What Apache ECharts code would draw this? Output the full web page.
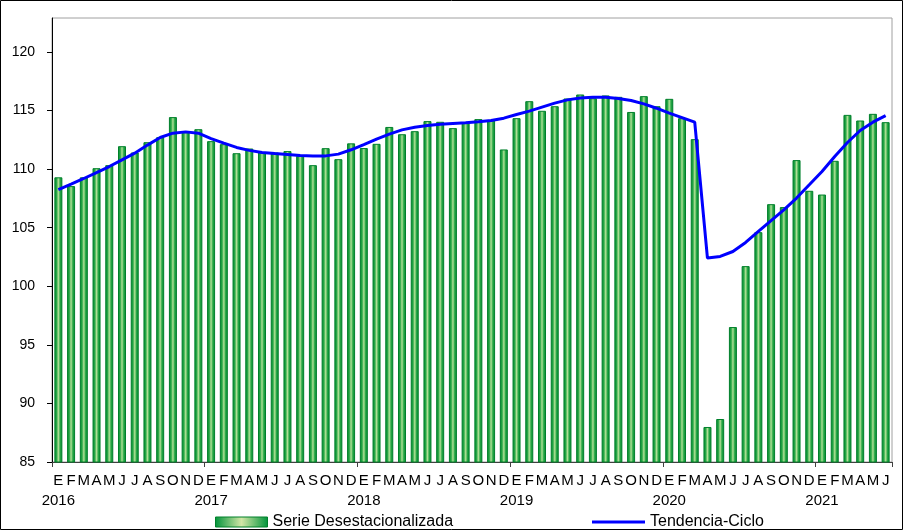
<!DOCTYPE html>
<html>
<head>
<meta charset="utf-8">
<script src="https://cdn.jsdelivr.net/npm/echarts@6/dist/echarts.min.js"></script>
<style>html,body{margin:0;padding:0;background:#fff}#c{width:904px;height:531px}</style>
</head>
<body>
<div id="c"></div>
<script>
var monthLetters = ['E','F','M','A','M','J','J','A','S','O','N','D'];
var years = ['2016','2017','2018','2019','2020','2021'];
var yTicks = [85, 90, 95, 100, 105, 110, 115, 120];

var serieDesest = [
  109.3, 108.55, 109.3, 110.08, 110.34, 111.96, 111.42, 112.3, 112.73, 114.44, 113.15, 113.41,
  112.39, 112.13, 111.36, 111.76, 111.45, 111.42, 111.54, 111.14, 110.34, 111.79, 110.85, 112.2,
  111.8, 112.16, 113.6, 112.98, 113.24, 114.1, 114.04, 113.5, 113.95, 114.27, 114.15, 111.68,
  114.35, 115.8, 114.98, 115.37, 116.03, 116.37, 116.05, 116.29, 116.17, 114.88, 116.23, 115.37,
  116.0, 114.35, 112.56, 87.99, 88.67, 96.52, 101.72, 104.62, 107.01, 106.76, 110.77, 108.15,
  107.83, 110.71, 114.63, 114.15, 114.72, 114.01
];
var tendenciaCiclo = [
  108.25, 108.72, 109.2, 109.71, 110.22, 110.79, 111.36, 112.05, 112.7, 113.07, 113.18, 113.07,
  112.61, 112.22, 111.85, 111.6, 111.42, 111.33, 111.25, 111.16, 111.11, 111.13, 111.28, 111.65,
  112.1, 112.56, 112.99, 113.35, 113.58, 113.72, 113.84, 113.9, 113.95, 114.04, 114.15, 114.35,
  114.66, 114.95, 115.29, 115.63, 115.91, 116.08, 116.14, 116.14, 116.03, 115.86, 115.57, 115.2,
  114.78, 114.4, 114.01, 102.41, 102.55, 102.97, 103.74, 104.68, 105.61, 106.53, 107.53, 108.66,
  109.8, 111.08, 112.27, 113.3, 114.01, 114.57
];

var categories = [];
for (var i = 0; i < serieDesest.length; i++) {
  categories.push(monthLetters[i % 12] + ' ' + years[Math.floor(i / 12)]);
}

var font = 'Arial, "Liberation Sans", sans-serif';
var chart = echarts.init(document.getElementById('c'), null, {renderer: 'canvas'});
var barGrad = new echarts.graphic.LinearGradient(0, 0, 1, 0, [
  {offset: 0, color: '#008a30'},
  {offset: 0.28, color: '#27a746'},
  {offset: 0.5, color: '#b3e198'},
  {offset: 0.72, color: '#27a746'},
  {offset: 1, color: '#008a30'}
]);
var legendGrad = new echarts.graphic.LinearGradient(0, 0, 1, 0, [
  {offset: 0, color: '#00933a'},
  {offset: 0.5, color: '#d2e6a6'},
  {offset: 1, color: '#00933a'}
]);

chart.setOption({
  animation: false,
  backgroundColor: '#ffffff',
  grid: {left: 52, right: 12, top: 18, bottom: 69, show: true, borderColor: '#a0a0a0', borderWidth: 1},
  xAxis: {
    type: 'category',
    data: categories,
    boundaryGap: true,
    axisLine: {lineStyle: {color: '#404040', width: 1}},
    axisTick: {show: true, length: 5, lineStyle: {color: '#404040'}, interval: function (idx) { return idx % 12 === 0; }},
    axisLabel: {
      interval: 0,
      hideOverlap: false,
      color: '#000',
      fontFamily: font,
      fontSize: 15,
      lineHeight: 20,
      margin: 9,
      formatter: function (v, idx) {
        var l = monthLetters[idx % 12];
        return idx % 12 === 0 ? l + '\n' + years[Math.floor(idx / 12)] : l;
      }
    },
    splitLine: {show: false}
  },
  yAxis: {
    type: 'value',
    min: 85,
    max: 122.9,
    interval: 5,
    axisLine: {show: true, lineStyle: {color: '#000', width: 1}},
    axisTick: {show: true, length: 5, lineStyle: {color: '#000'}, customValues: yTicks},
    axisLabel: {color: '#000', fontFamily: font, fontSize: 14, margin: 17, customValues: yTicks},
    splitLine: {show: false}
  },
  legend: [
    {
      left: 210, top: 509,
      itemWidth: 52, itemHeight: 10, itemGap: 6,
      data: [{name: 'Serie Desestacionalizada', icon: 'rect', itemStyle: {color: legendGrad, borderColor: '#00802b', borderWidth: 1}}],
      textStyle: {color: '#000', fontFamily: font, fontSize: 16}
    },
    {
      left: 587, top: 509,
      itemWidth: 53, itemHeight: 3, itemGap: 6,
      data: [{name: 'Tendencia-Ciclo', icon: 'rect', itemStyle: {color: '#0000ff'}}],
      textStyle: {color: '#000', fontFamily: font, fontSize: 16}
    }
  ],
  graphic: [{
    type: 'rect', silent: true,
    shape: {x: 0.5, y: 0.5, width: 902, height: 529},
    style: {fill: 'none', stroke: '#000', lineWidth: 1}
  }],
  series: [
    {
      name: 'Serie Desestacionalizada',
      type: 'bar',
      data: serieDesest,
      barWidth: 8,
      itemStyle: {color: barGrad, borderColor: '#00802b', borderWidth: 1}
    },
    {
      name: 'Tendencia-Ciclo',
      type: 'line',
      data: tendenciaCiclo,
      symbol: 'none',
      smooth: false,
      lineStyle: {color: '#0000ff', width: 3},
      itemStyle: {color: '#0000ff'},
      z: 5
    }
  ]
});
</script>
</body>
</html>
